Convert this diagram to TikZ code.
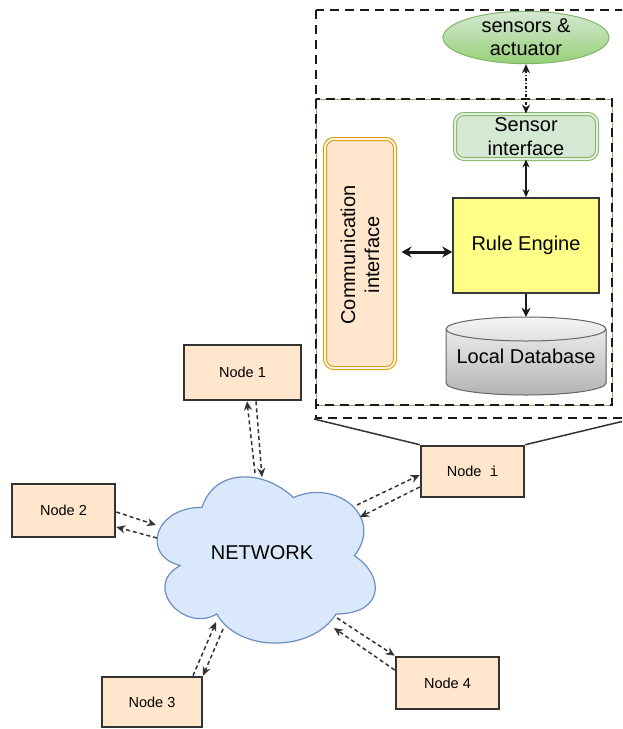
\documentclass[tikz,border=0pt]{standalone}
\usepackage{fontspec}
\setmainfont{Liberation Sans}
\newfontfamily\monoi{Liberation Mono}
\usetikzlibrary{arrows.meta,shapes.geometric}
\definecolor{nodefill}{HTML}{FFE6CC}
\definecolor{nodedraw}{HTML}{333333}
\definecolor{cloudfill}{HTML}{DAE8FC}
\definecolor{clouddraw}{HTML}{6C8EBF}
\definecolor{grfill}{HTML}{D5E8D4}
\definecolor{grdark}{HTML}{97D077}
\definecolor{grdraw}{HTML}{82B366}
\definecolor{ordraw}{HTML}{D79B00}
\definecolor{yelfill}{HTML}{FFFF88}
\definecolor{yeldraw}{HTML}{36393D}
\definecolor{dbtop}{HTML}{F5F5F5}
\definecolor{dbbot}{HTML}{B3B3B3}
\definecolor{dbdraw}{HTML}{666666}
\definecolor{boxdash}{HTML}{1A1A1A}
\begin{document}
\begin{tikzpicture}[x=1pt,y=-1pt,
  bigfont/.style={font=\fontsize{20}{24}\selectfont},
  nodebox/.style={draw=nodedraw,line width=2.6pt,fill=nodefill,inner sep=0pt,
    font=\fontsize{14.5}{17}\selectfont},
  dbox/.style={draw=boxdash,line width=2.6pt,dash pattern=on 9pt off 6pt},
  dl/.style={draw=nodedraw,line width=1.5pt,dash pattern=on 4pt off 3pt,
    -{Stealth[length=9pt,width=8pt]}},
  link/.style={draw=nodedraw,line width=1.5pt},
  dblbox/.style={rounded corners=9pt,line width=1pt,double distance=2pt,inner sep=0pt,bigfont,align=center}
]
\useasboundingbox (0,0) rectangle (622,729);
\clip (0,0) rectangle (622,729);

% dashed containers
\draw[dbox] (316,10) rectangle (632,418);
\draw[grdraw,line width=1pt] (316,99) rectangle (612,405);
\draw[dbox] (316,99) rectangle (612,405);

% cloud
\begin{scope}[shift={(141.2,458.8)},x=243.6pt,y=-194pt]
\filldraw[fill=cloudfill,draw=clouddraw,line width=1.2pt]
  (0.25,0.25) .. controls (0.05,0.25) and (0,0.5) .. (0.16,0.55)
  .. controls (0,0.66) and (0.18,0.9) .. (0.31,0.8)
  .. controls (0.4,1) and (0.7,1) .. (0.8,0.8)
  .. controls (1,0.8) and (1,0.6) .. (0.875,0.5)
  .. controls (1,0.3) and (0.8,0.1) .. (0.625,0.2)
  .. controls (0.5,0.05) and (0.3,0.05) .. (0.25,0.25) -- cycle;
\end{scope}
\node[bigfont] (net) at (262,553) {NETWORK};

% inner components
\node[ellipse,minimum width=166pt,minimum height=51pt,inner sep=0pt,
  top color=grfill,bottom color=grdark,draw=grdraw,line width=1pt,
  bigfont,align=center] (sa) at (526,37.5) {sensors \&\\[-1pt]actuator};
\node[dblbox,draw=grdraw,double=grfill!60!white,fill=grfill,
  minimum width=142pt,minimum height=45pt] (si) at (526,136.5) {Sensor\\interface};
\node[draw=yeldraw,line width=1.5pt,fill=yelfill,minimum width=146pt,minimum height=95pt,
  inner sep=0pt,bigfont] (re) at (526,245.5) {Rule Engine};
\node[dblbox,draw=ordraw,double=nodefill!50!white,fill=nodefill,
  minimum width=70pt,minimum height=229pt] (ci) at (360,253.5) {};
\node[bigfont,align=center,rotate=90] (citext) at (360,255) {Communication\\interface};

% database cylinder
\filldraw[top color=dbtop,bottom color=dbbot,draw=dbdraw,line width=1pt]
  (446,329) -- (446,383) arc[start angle=180,end angle=360,x radius=80pt,y radius=12pt]
  -- (606,329) arc[start angle=0,end angle=180,x radius=80pt,y radius=12pt] -- cycle;
\draw[dbdraw,line width=1pt] (446,329) arc[start angle=180,end angle=360,x radius=80pt,y radius=12pt];
\node[minimum width=160pt,minimum height=78pt,inner sep=0pt,bigfont] (db) at (526,356) {Local Database};

% inner arrows
\draw[draw=boxdash,line width=1.5pt,dash pattern=on 3pt off 2pt on 1pt off 2pt,
  {Stealth[length=9pt,width=8pt]}-{Stealth[length=9pt,width=8pt]}] (sa.south) -- (si.north);
\draw[draw=boxdash,line width=1.5pt,{Stealth[length=8pt,width=7pt]}-{Stealth[length=8pt,width=7pt]}] (si.south) -- (re.north);
\draw[draw=boxdash,line width=3pt,{Stealth[length=10pt,width=11pt]}-{Stealth[length=10pt,width=11pt]}]
  ([xshift=6pt,yshift=1.5pt]ci.east) -- ([yshift=-6.5pt]re.west);
\draw[draw=boxdash,line width=2.4pt,-{Stealth[length=9pt,width=9pt]}] (re.south) -- (db.north);

% network nodes
\node[nodebox,minimum width=117pt,minimum height=55pt] (n1) at (242.5,372.5) {Node 1};
\node[nodebox,minimum width=103pt,minimum height=53pt] (n2) at (63.5,510.5) {Node 2};
\node[nodebox,minimum width=100pt,minimum height=50pt] (n3) at (152,702) {Node 3};
\node[nodebox,minimum width=103pt,minimum height=52pt] (n4) at (447.5,683) {Node 4};
\node[nodebox,minimum width=103pt,minimum height=51pt] (ni) at (472.5,471.5) {Node\ \ {\monoi i}};

% zoom lines
\coordinate (ob1) at (314,419);
\coordinate (ob2) at (624,421);
\draw[link] (ob1) -- (ni.north west);
\draw[link] (ob2) -- (ni.north east);

% cloud attachment points
\coordinate (c1a) at (255,473);
\coordinate (c1b) at (262,477);
\coordinate (c2a) at (156,525);
\coordinate (c2b) at (157,538);
\coordinate (c3a) at (216,622);
\coordinate (c3b) at (223,629);
\coordinate (c4a) at (337,618);
\coordinate (c4b) at (334,628);
\coordinate (cia) at (357,505);
\coordinate (cib) at (360,517);

% dashed connectors
\draw[dl] (c1a) -- ([xshift=4.5pt]n1.south);
\draw[dl] ([xshift=13.5pt]n1.south) -- (c1b);
\draw[dl] ([yshift=-1.5pt]n2.east) -- (c2a);
\draw[dl] (c2b) -- ([yshift=-16.5pt]n2.east);
\draw[dl] ([xshift=41pt]n3.north) -- (c3a);
\draw[dl] (c3b) -- ([xshift=51pt]n3.north);
\draw[dl] (c4a) -- (n4.north west);
\draw[dl] ([yshift=13pt]n4.west) -- (c4b);
\draw[dl] (cia) -- ([yshift=-3.5pt]ni.west);
\draw[dl] ([yshift=-15.5pt]ni.west) -- (cib);
\end{tikzpicture}
\end{document}
